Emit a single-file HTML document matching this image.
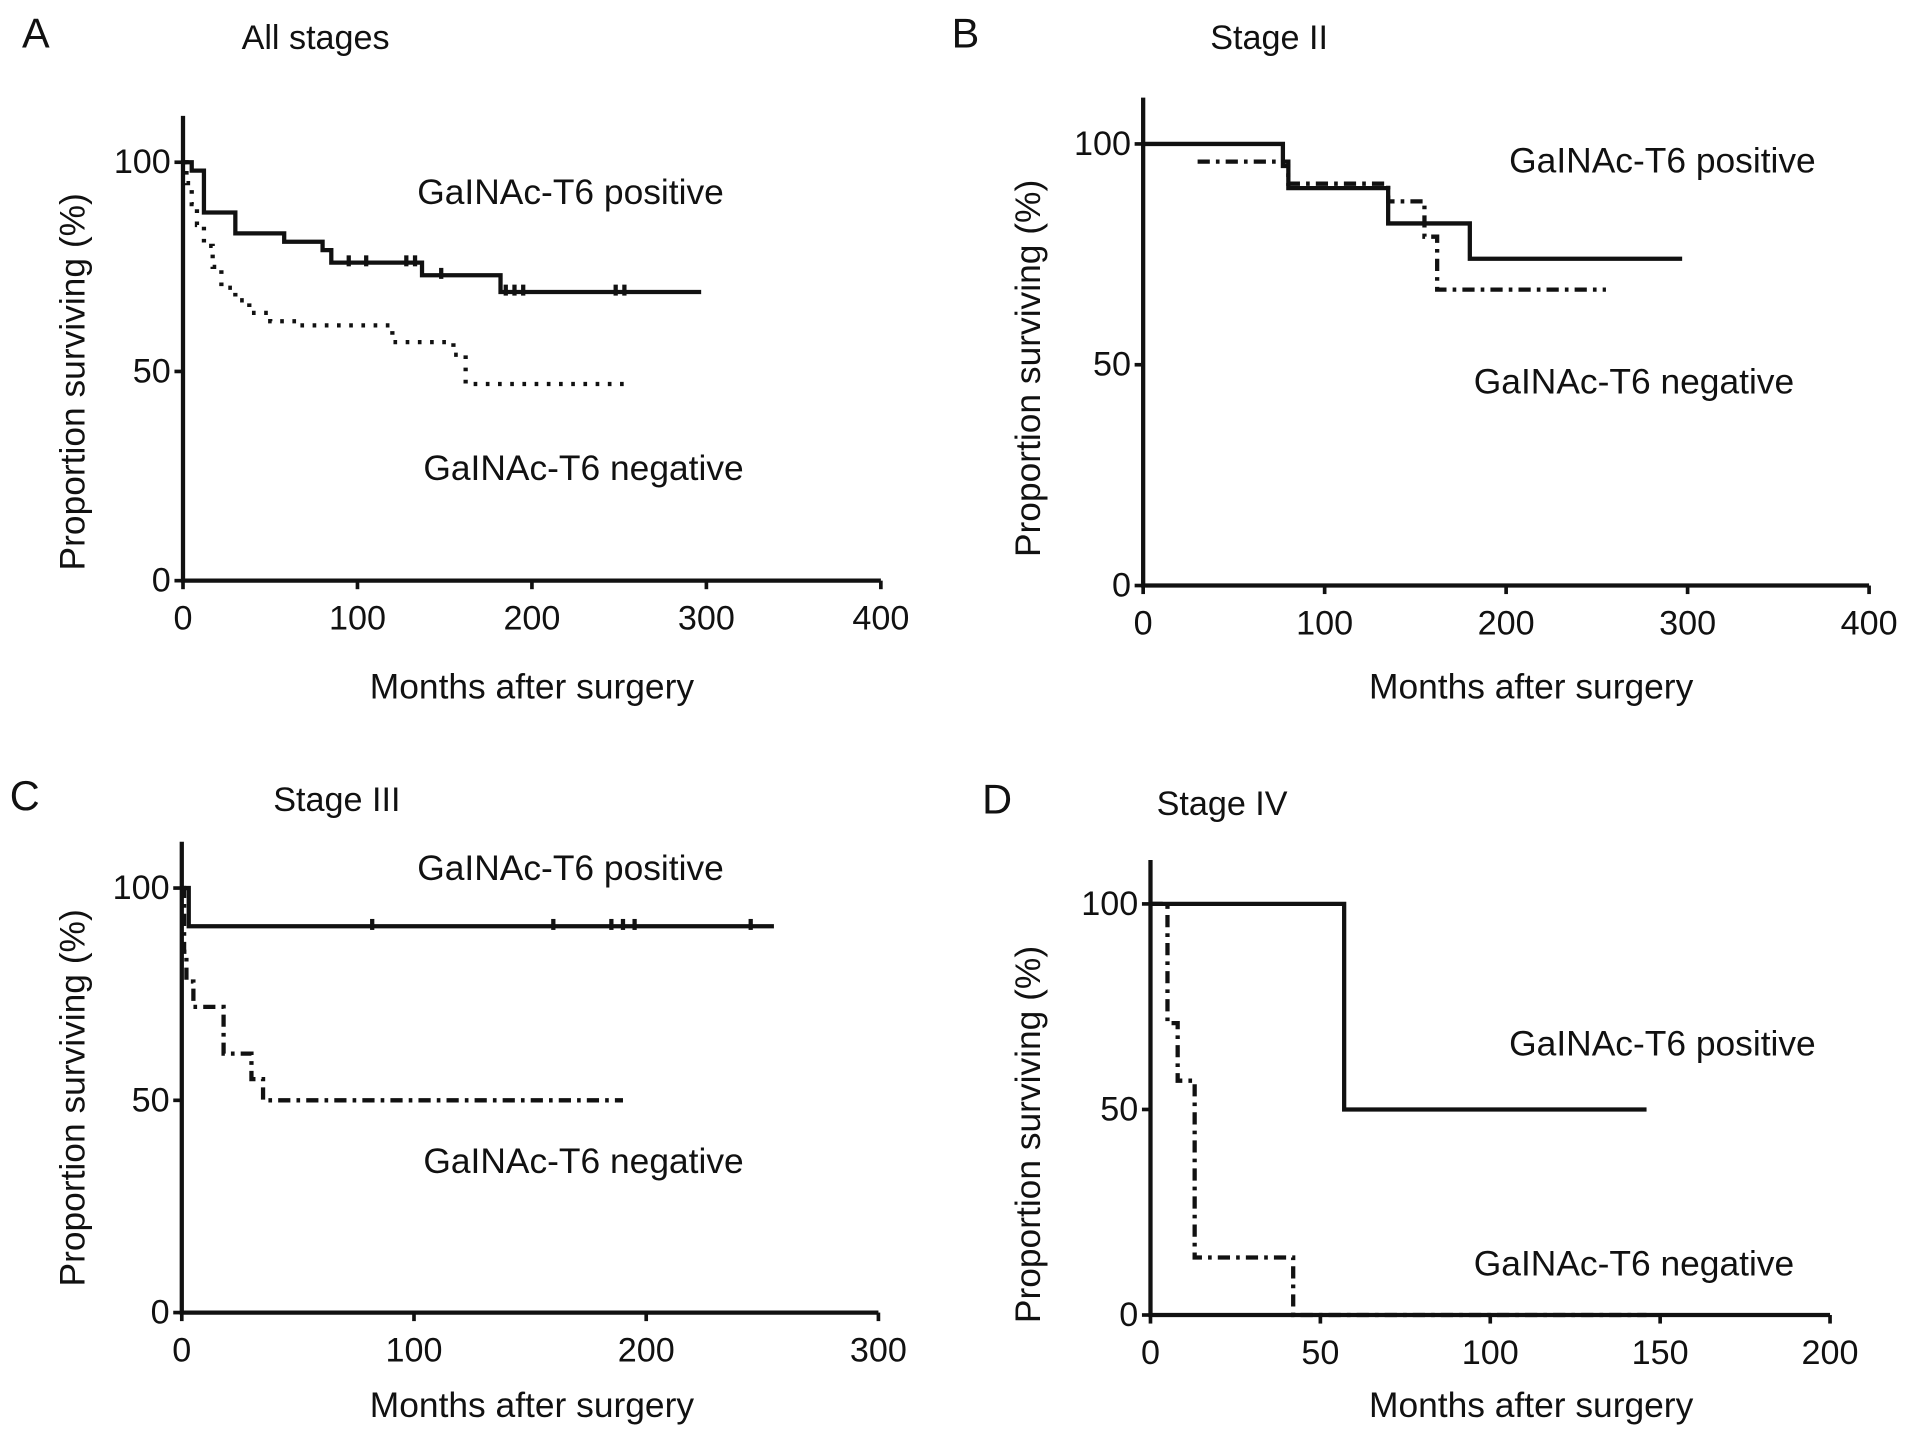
<!DOCTYPE html>
<html><head><meta charset="utf-8"><style>
html,body{margin:0;padding:0;background:#fff;}
svg{display:block;}
text{font-family:"Liberation Sans",Arial,sans-serif;fill:#111;}
</style></head><body>
<svg id="fig" width="1913" height="1437" viewBox="0 0 1568 1178" preserveAspectRatio="none"></svg>
<script>
// ---- data (months, % surviving) ----
const aPosX=[0,5,12,30,58,80,85,137,182,297];
const aPosY=[100,98,88,83,81,79,76,73,69,69];
const aPosCens=[95,105,128,133,148,185,190,195,248,253];
const aNegX=[0,2,5,8,12,17,22,30,38,50,65,120,155,158,162,255];
const aNegY=[100,95,90,85,80,75,70,67,64,62,61,57,54,54,47,47];
const bPosX=[0,77,80,135,180,297];
const bPosY=[100,95,90,82,74,74];
const bNegX=[30,80,135,155,162,255];
const bNegY=[96,91,87,79,67,67];
const cPosX=[0,3,255];
const cPosY=[100,91,91];
const cPosCens=[82,160,185,190,195,245];
const cNegX=[0,1,2,5,18,30,35,190];
const cNegY=[100,85,78,72,61,55,50,50];
const dPosX=[0,57,146];
const dPosY=[100,50,50];
const dNegX=[0,5,8,13,42,146];
const dNegY=[100,71,57,14,0,0];
const xTicksA=[0,100,200,300,400];
const xTicksC=[0,100,200,300];
const xTicksD=[0,50,100,150,200];
const yTicks=[0,50,100];

const NS="http://www.w3.org/2000/svg";
const svg=document.getElementById('fig');
function el(tag,attrs,parent){const e=document.createElementNS(NS,tag);for(const k in attrs)e.setAttribute(k,attrs[k]);(parent||svg).appendChild(e);return e;}
function txt(s,x,y,size,anchor,parent,rot){const t=el('text',{x:x,y:y,'font-size':size,'text-anchor':anchor||'start','dominant-baseline':'central'},parent);if(rot)t.setAttribute('transform','rotate(-90 '+x+' '+y+')');t.textContent=s;return t;}

function panel(cfg){
  const g=el('g',{});
  
  
  const sx=v=>cfg.x0+(v/cfg.xmax)*(cfg.x1-cfg.x0);
  const sy=v=>cfg.y0-(v/100)*(cfg.y0-cfg.y100);
  const ax=el('path',{d:`M${cfg.x0} ${cfg.top}V${cfg.y0}H${cfg.x1}`,stroke:'#111','stroke-width':3.5,fill:'none'},g);
  
  
  cfg.xt.forEach(v=>{el('line',{x1:sx(v),x2:sx(v),y1:cfg.y0,y2:cfg.y0+7,stroke:'#111','stroke-width':3},g);
    const t=txt(String(v),sx(v),cfg.y0+31,28,'middle',g);
    
    });
  yTicks.forEach(v=>{el('line',{x1:cfg.x0-7,x2:cfg.x0,y1:sy(v),y2:sy(v),stroke:'#111','stroke-width':3},g);
    const t=txt(String(v),cfg.x0-10,sy(v),28,'end',g);
    
    });
  const xt=txt('Months after surgery',cfg.xtx,cfg.xty,29,'middle',g);
  
  
  const yt=txt('Proportion surviving (%)',cfg.ytx,cfg.yty,29,'middle',g,true);
  
  
  const lt=txt(cfg.id,cfg.lx,cfg.ly,34,'start',g);
  
  
  const ti=txt(cfg.title,cfg.tx,cfg.ly+4,28,'start',g);
  
  
  const p1=txt('GaINAc-T6 positive',cfg.px,cfg.py,29,'start',g);
  
  
  const p2=txt('GaINAc-T6 negative',cfg.nx,cfg.ny,29,'start',g);
  
  
  function step(X,Y,style,name){
    let d=`M${sx(X[0])} ${sy(Y[0])}`;
    for(let i=1;i<X.length;i++){d+=`H${sx(X[i])}V${sy(Y[i])}`;}
    const p=el('path',Object.assign({d:d,fill:'none',stroke:'#111'},style),g);
    
    
  }
  step(cfg.pX,cfg.pY,{'stroke-width':3.5},'positive-curve');
  step(cfg.nX,cfg.nY,cfg.nStyle,'negative-curve');
  (cfg.cens||[]).forEach(c=>{
    let yv=cfg.pY[0];for(let i=0;i<cfg.pX.length;i++){if(cfg.pX[i]<=c)yv=cfg.pY[i];}
    const l=el('line',{x1:sx(c),x2:sx(c),y1:sy(yv)-6,y2:sy(yv)+3,stroke:'#111','stroke-width':3.5},g);
    
    
  });
}
const dotted={'stroke-width':3.5,'stroke-dasharray':'3 7'};
const dashdot={'stroke-width':3.5,'stroke-dasharray':'10 5 3 5'};
panel({id:'A',title:'All stages',x0:150,x1:722,xmax:400,top:95,y0:476,y100:133,xt:xTicksA,xtx:436,xty:563,ytx:60,yty:313,lx:18,ly:27,tx:198,px:342,py:158,nx:347,ny:384,pX:aPosX,pY:aPosY,nX:aNegX,nY:aNegY,nStyle:dotted,cens:aPosCens});
panel({id:'B',title:'Stage II',x0:937,x1:1532,xmax:400,top:80,y0:480,y100:118,xt:xTicksA,xtx:1255,xty:563,ytx:843,yty:302,lx:780,ly:27,tx:992,px:1237,py:132,nx:1208,ny:313,pX:bPosX,pY:bPosY,nX:bNegX,nY:bNegY,nStyle:dashdot,cens:[]});
panel({id:'C',title:'Stage III',x0:149,x1:720,xmax:300,top:690,y0:1076,y100:728,xt:xTicksC,xtx:436,xty:1152,ytx:60,yty:900,lx:8,ly:652,tx:224,px:342,py:712,nx:347,ny:952,pX:cPosX,pY:cPosY,nX:cNegX,nY:cNegY,nStyle:dashdot,cens:cPosCens});
panel({id:'D',title:'Stage IV',x0:943,x1:1500,xmax:200,top:705,y0:1078,y100:741,xt:xTicksD,xtx:1255,xty:1152,ytx:843,yty:930,lx:805,ly:655,tx:948,px:1237,py:856,nx:1208,ny:1036,pX:dPosX,pY:dPosY,nX:dNegX,nY:dNegY,nStyle:dashdot,cens:[]});
</script>
</body></html>
